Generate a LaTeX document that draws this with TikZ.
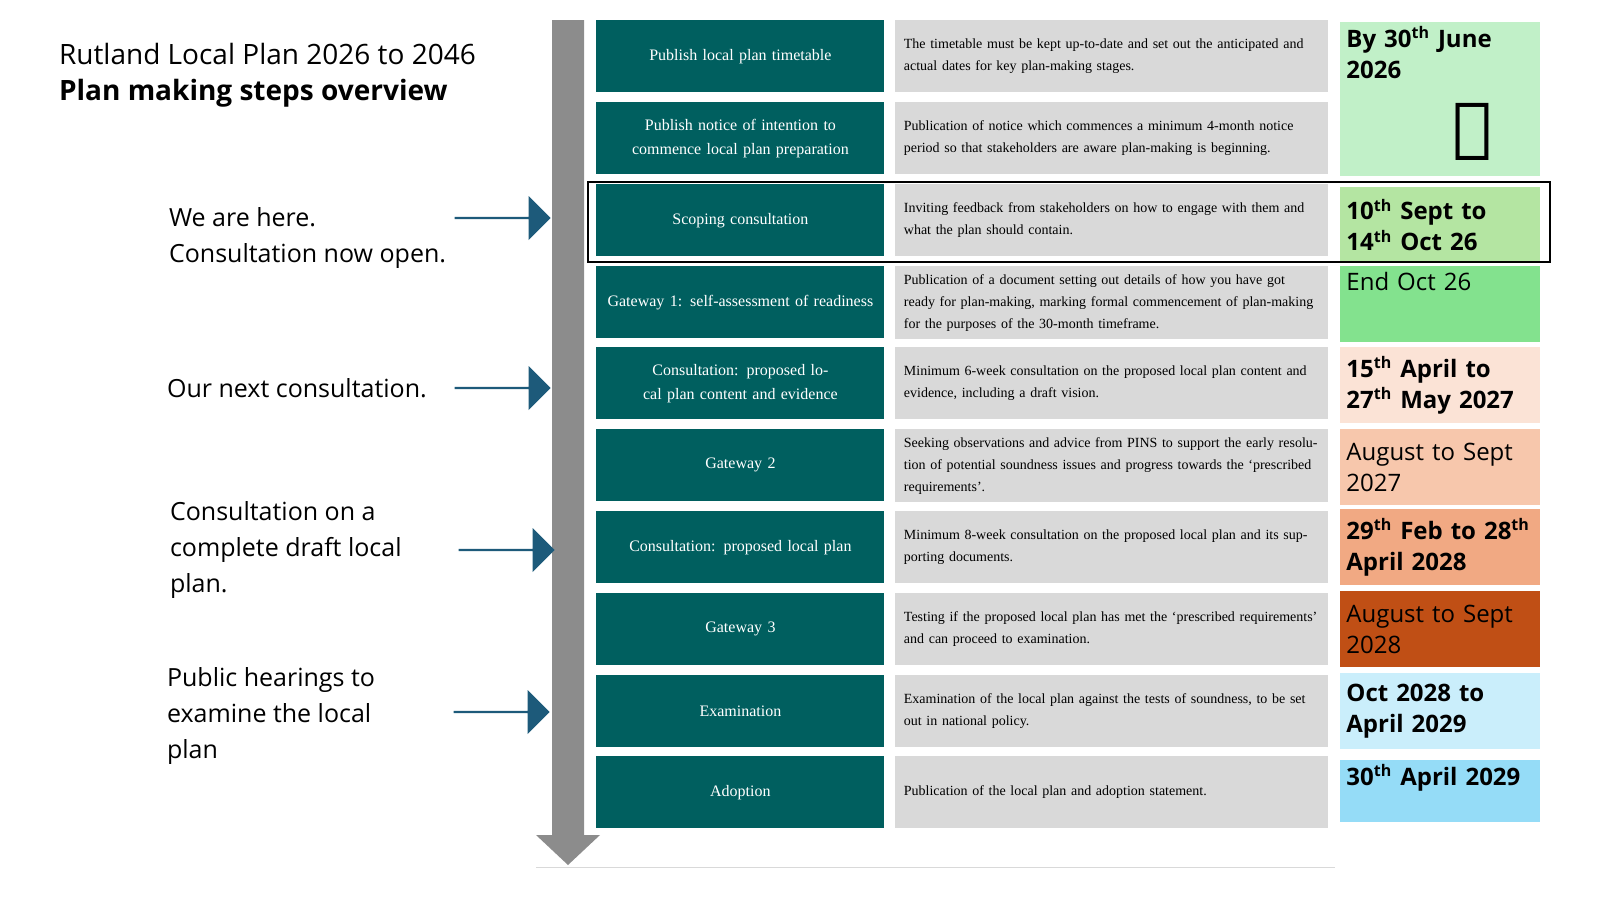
\documentclass[tikz,border=0pt]{standalone}
\usepackage{fontspec}
\setmainfont{Liberation Serif}
\newfontfamily\labelfont{Open Sans}
\usetikzlibrary{shapes.arrows}
\definecolor{stepgreen}{HTML}{005F5F}
\definecolor{descgrey}{HTML}{D9D9D9}
\definecolor{arrowblue}{HTML}{1D5A7A}
\definecolor{dateA}{HTML}{C1F0C8}
\definecolor{dateB}{HTML}{B4E5A2}
\definecolor{dateC}{HTML}{83E28E}
\definecolor{dateD}{HTML}{FBE3D6}
\definecolor{dateE}{HTML}{F7C7AC}
\definecolor{dateF}{HTML}{F1A983}
\definecolor{dateG}{HTML}{C04F15}
\definecolor{dateH}{HTML}{CAEEFB}
\definecolor{dateI}{HTML}{95DCF7}
\newcommand{\ordth}{\textsuperscript{th}}
\begin{document}
\begin{tikzpicture}[x=0.5pt,y=-0.5pt]
    \tikzset{planstep/.style={fill=stepgreen,text=white,anchor=north west,minimum width=144pt,minimum height=36pt,
        text width=136pt,align=center,font=\fontsize{8}{12}\selectfont,inner sep=2pt},
      desc/.style={fill=descgrey,anchor=north west,minimum width=216.5pt,minimum height=36pt,
        text width=208pt,align=left,font=\fontsize{7}{11}\selectfont,inner sep=4pt},
      date/.style={anchor=north west,minimum width=100pt,text width=94pt,align=left,
        font=\labelfont\fontsize{12}{15.5}\selectfont,inner sep=3pt},
      here/.style={anchor=west,align=left,font=\labelfont\fontsize{12.5}{18}\selectfont},
      pointer/.style={single arrow,fill=arrowblue,minimum width=22pt,single arrow head extend=4pt,
        minimum height=48pt,inner sep=0pt,single arrow head indent=0pt}}
    \useasboundingbox (0,0) rectangle (1600,900);

    % timeline
    \fill[gray!90] (552,20) -- (584,20) -- (584,835) -- (600,835) -- (568,865) -- (536,835) -- (552,835) -- cycle;
    \draw[gray!30] (536,867) -- (1335,867);

    % title
    \node[anchor=north west,align=left,font=\labelfont\fontsize{14}{18}\selectfont] (title) at (52,36)
      {Rutland Local Plan 2026 to 2046\\\textbf{Plan making steps overview}};

    % steps
    \node[planstep] (s1) at (596,20) {Publish local plan timetable};
    \node[planstep] (s2) at (596,102) {Publish notice of intention to commence local plan preparation};
    \node[planstep] (s3) at (596,184) {Scoping consultation};
    \node[planstep] (s4) at (596,266) {Gateway 1: self-assessment of readiness};
    \node[planstep] (s5) at (596,347) {Consultation: proposed local plan content and evidence};
    \node[planstep] (s6) at (596,429) {Gateway 2};
    \node[planstep] (s7) at (596,511) {Consultation: proposed local plan};
    \node[planstep] (s8) at (596,593) {Gateway 3};
    \node[planstep] (s9) at (596,675) {Examination};
    \node[planstep] (s10) at (596,756) {Adoption};

    % descriptions
    \node[desc] (d1) at (895,20) {The timetable must be kept up-to-date and set out the anticipated and actual dates for key plan-making stages.};
    \node[desc] (d2) at (895,102) {Publication of notice which commences a minimum 4-month notice period so that stakeholders are aware plan-making is beginning.};
    \node[desc] (d3) at (895,184) {Inviting feedback from stakeholders on how to engage with them and what the plan should contain.};
    \node[desc] (d4) at (895,266) {Publication of a document setting out details of how you have got ready for plan-making, marking formal commencement of plan-making for the purposes of the 30-month timeframe.};
    \node[desc] (d5) at (895,347) {Minimum 6-week consultation on the proposed local plan content and evidence, including a draft vision.};
    \node[desc] (d6) at (895,429) {Seeking observations and advice from PINS to support the early resolution of potential soundness issues and progress towards the `prescribed requirements'.};
    \node[desc] (d7) at (895,511) {Minimum 8-week consultation on the proposed local plan and its supporting documents.};
    \node[desc] (d8) at (895,593) {Testing if the proposed local plan has met the `prescribed requirements' and can proceed to examination.};
    \node[desc] (d9) at (895,675) {Examination of the local plan against the tests of soundness, to be set out in national policy.};
    \node[desc] (d10) at (895,756) {Publication of the local plan and adoption statement.};

    % dates
    \node[date,fill=dateA,minimum height=77pt,text height=8pt,text depth=60pt] (t1) at (1340,22) {\textbf{By 30\ordth{} June 2026}};
    \node[font=\fontsize{40}{40}\selectfont] (tick) at (1472,132) {\labelfont\char"2714};
    \node[date,fill=dateB,minimum height=37.5pt] (t3) at (1340,187) {\textbf{10\ordth{} Sept to 14\ordth{} Oct 26}};
    \node[date,fill=dateC,minimum height=38pt,text height=8pt,text depth=22pt] (t4) at (1340,266) {End Oct 26};
    \node[date,fill=dateD,minimum height=38pt] (t5) at (1340,347) {\textbf{15\ordth{} April to 27\ordth{} May 2027}};
    \node[date,fill=dateE,minimum height=38pt] (t6) at (1340,429) {August to Sept 2027};
    \node[date,fill=dateF,minimum height=38pt] (t7) at (1340,509) {\textbf{29\ordth{} Feb to 28\ordth{} April 2028}};
    \node[date,fill=dateG,minimum height=38pt] (t8) at (1340,591) {August to Sept 2028};
    \node[date,fill=dateH,minimum height=38pt] (t9) at (1340,673) {\textbf{Oct 2028 to April 2029}};
    \node[date,fill=dateI,minimum height=31pt,text height=8pt,text depth=14pt] (t10) at (1340,760) {\textbf{30\ordth{} April 2029}};

    % current stage
    \draw[thick] (588,182) rectangle (1550,262);

    % notes
    \node[here] (n1) at (162,238) {We are here.\\Consultation now open.};
    \node[here] (n2) at (160,388) {Our next consultation.};
    \node[here] (n3) at (163,550) {Consultation on a\\complete draft local\\plan.};
    \node[here] (n4) at (160,716) {Public hearings to\\examine the local\\plan};
    \node[pointer] (p1) at (502,218) {};
    \node[pointer] (p2) at (502,388) {};
    \node[pointer] (p3) at (506,550) {};
    \node[pointer] (p4) at (501,712) {};
\end{tikzpicture}
\end{document}
